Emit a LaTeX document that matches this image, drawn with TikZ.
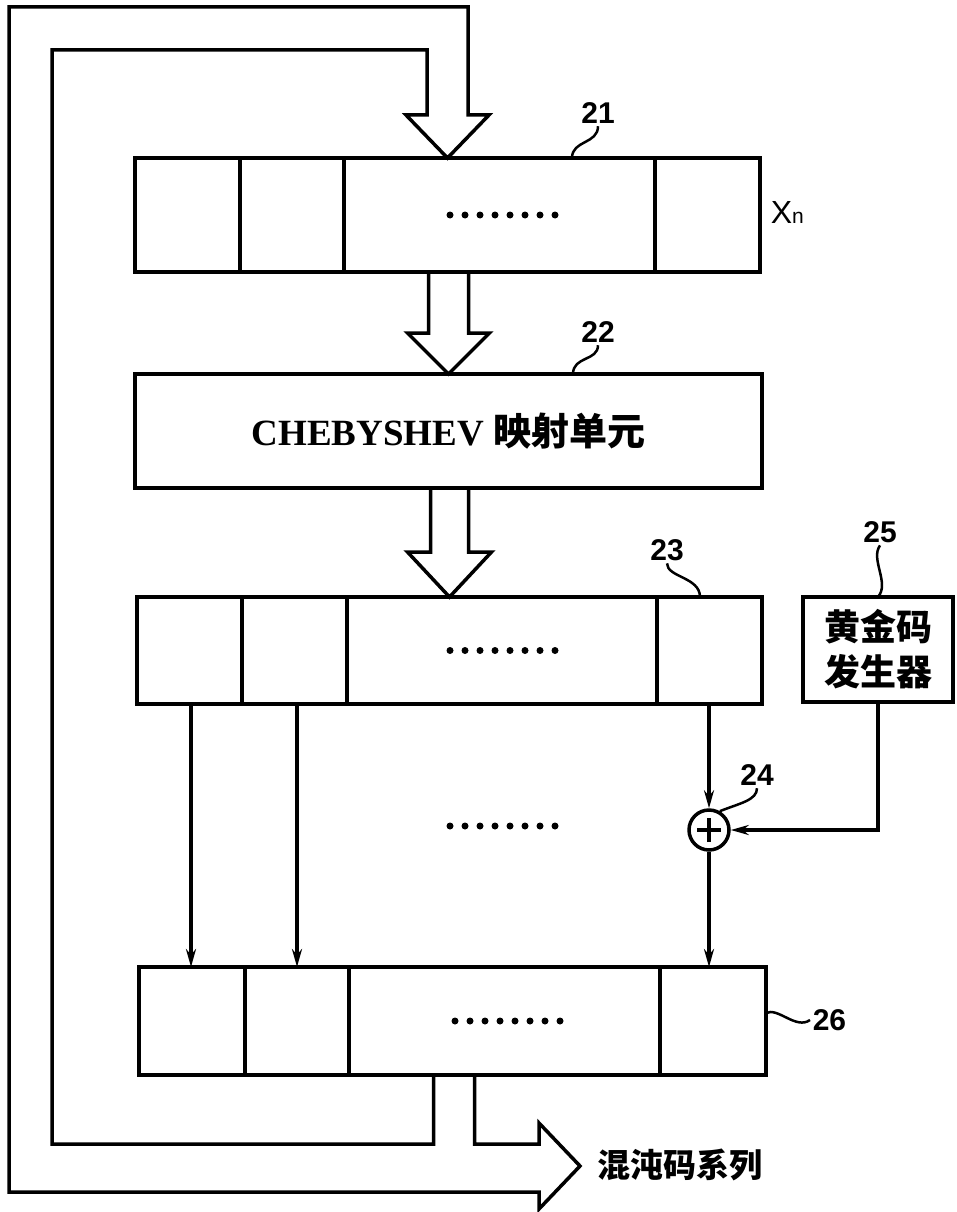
\documentclass[tikz,border=0pt]{standalone}
\usepackage{fontspec}
\setmainfont{Liberation Serif}
\newfontfamily\lab{Liberation Sans}
\newfontfamily\cjk{Noto Sans CJK SC}
\usetikzlibrary{arrows.meta,positioning}

\begin{document}
\begin{tikzpicture}[x=1pt, y=-1pt, >={Stealth[length=18pt,width=10pt]}, line width=3.5pt,
    reg/.style={draw, line width=3.5pt, minimum height=114pt, inner sep=0pt, outer sep=0pt},
    hollow/.style={line width=3.5pt, line join=miter},
    lead/.style={line width=2.5pt},
    num/.style={font=\lab\bfseries\fontsize{30}{30}\selectfont, inner sep=1pt}]
    \useasboundingbox (0,0) rectangle (956,1212);

    % 寄存器与单元
    \node[reg, minimum width=625pt] (r21) at (447.5,215) {};
    \node[reg, minimum width=627pt, font=\fontsize{37}{37}\selectfont] (r22) at (448.5,431)
        {\textbf{CHEBYSHEV} {\cjk\bfseries\fontsize{38}{38}\selectfont 映射单元}};
    \node[reg, minimum width=625pt, minimum height=107pt] (r23) at (449.5,650.5) {};
    \node[reg, minimum width=627pt, minimum height=108pt] (r26) at (452.5,1021) {};
    \node[reg, minimum width=150pt, minimum height=105pt, align=center,
        font=\cjk\bfseries\fontsize{36}{45}\selectfont] (gold) at (878,649.5) {黄金码\\发生器};
    \node[draw, circle, minimum size=40pt, inner sep=0pt] (xor) at (709,830) {};
    \draw[line width=4pt] ([yshift=-12pt]xor.center) -- ([yshift=12pt]xor.center)
          ([xshift=-12pt]xor.center) -- ([xshift=12pt]xor.center);

    % 分隔线
    \foreach \r/\a/\b/\c in {r21/105/209/520, r23/105/210/520, r26/106/210/521}
        \foreach \d in {\a,\b,\c}
            \draw ([xshift=\d pt]\r.north west) -- ([xshift=\d pt]\r.south west);

    % 省略号
    \foreach \r/\dx in {r21/55, r23/53, r26/55}
        \foreach \i in {0,...,7}
            \fill ([xshift={(\dx+\i*15-52.5)*1pt}]\r.center) circle (3.5pt);
    \foreach \i in {0,...,7}
        \fill (450+\i*15,826) circle (3.5pt);

    % 空心箭头
    \draw[hollow] ([xshift=-20pt]r22.north |- r21.south) -- ++(0,61) -- ++(-21,0) -- (r22.north)
        -- ++(41,-41) -- ++(-21,0) -- ([xshift=20pt]r22.north |- r21.south);
    \draw[hollow] ([xshift=-19pt]r23.north |- r22.south) -- ++(0,64) -- ++(-23,0) -- (r23.north)
        -- ++(42,-45) -- ++(-23,0) -- ([xshift=19pt]r23.north |- r22.south);

    % 反馈与输出
    \draw[hollow] ([xshift=-19pt]r26.south) |- (52,1144) |- (427,50) -- (427,115) -- (406,115)
        -- (r21.north) -- (489,115) -- (468,115) |- (9,7) |- (539,1192) -- (539,1209)
        -- (580,1166) -- (539,1123) -- (539,1144) -| ([xshift=22pt]r26.south);
    \node[font=\cjk\bfseries\fontsize{33}{33}\selectfont, anchor=west] (out) at (592,1165) {混沌码系列};

    % 连线
    \draw[->] ([xshift=54pt]r23.south west) -- ([xshift=54pt]r23.south west |- r26.north);
    \draw[->] ([xshift=160pt]r23.south west) -- ([xshift=160pt]r23.south west |- r26.north);
    \draw[->] ([xshift=572pt]r23.south west) -- (xor.north);
    \draw[->] (xor.south) -- (xor.south |- r26.north);
    \draw[->] (gold.south) |- (xor.east);

    % 标号
    \node[num] (l21) at (598,113) {21};
    \node[num] (l22) at (598,332) {22};
    \node[num] (l23) at (667,550) {23};
    \node[num] (l24) at (757,775) {24};
    \node[num] (l25) at (880,532) {25};
    \node[num, anchor=west] (l26) at (810,1020) {26};
    \node[font=\lab\fontsize{32}{32}\selectfont, anchor=west, inner sep=0pt] (xn) at (769,212)
        {X{\fontsize{21}{21}\selectfont n}};

    \draw[lead] ([xshift=437pt]r21.north west) .. controls +(0,-18) and +(0,18) .. (l21.south);
    \draw[lead] ([xshift=438pt]r22.north west) .. controls +(0,-18) and +(0,16) .. (l22.south);
    \draw[lead] ([xshift=563pt]r23.north west) .. controls +(0,-20) and +(0,14) .. (l23.south);
    \draw[lead] (gold.north) .. controls +(12,-14) and +(-10,14) .. (l25.south);
    \draw[lead] (xor.60) .. controls +(20,-8) and +(0,12) .. (l24.south);
    \draw[lead] ([yshift=8pt]r26.east) .. controls +(12,-6) and +(-14,10) .. (l26.west);
\end{tikzpicture}
\end{document}
